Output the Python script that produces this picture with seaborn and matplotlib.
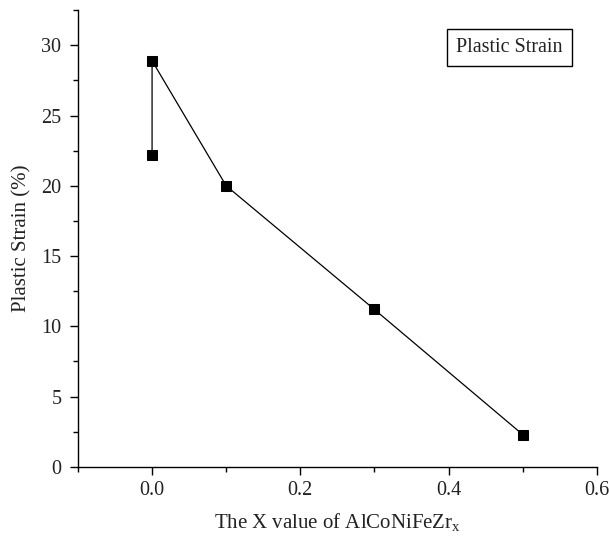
import matplotlib
matplotlib.use("Agg")
import matplotlib.pyplot as plt
import seaborn as sns
import pandas as pd
from matplotlib.ticker import MultipleLocator

x_values = [0.0, 0.0, 0.1, 0.3, 0.5]
strain = [22.2, 28.9, 20.0, 11.2, 2.3]
series_name = "Plastic Strain"

df = pd.DataFrame({"x": x_values, "strain": strain, "order": range(len(x_values))})

sns.set_theme(style="ticks")
plt.rcParams["font.family"] = ["Liberation Serif", "DejaVu Serif"]
plt.rcParams["mathtext.fontset"] = "custom"
plt.rcParams["mathtext.rm"] = "Liberation Serif"
plt.rcParams["mathtext.it"] = "Liberation Serif:italic"

fig = plt.figure(figsize=(6.09, 5.36), dpi=100)
ax = fig.add_axes([0.128, 0.129, 0.852, 0.852])

sns.lineplot(data=df, x="x", y="strain", sort=False, estimator=None, ax=ax,
             color="black", linewidth=0.9, marker="s", markersize=7,
             markeredgecolor="black", markerfacecolor="black")

ax.set_xlim(-0.1, 0.6)
ax.set_ylim(0, 32.5)
ax.xaxis.set_major_locator(MultipleLocator(0.2))
ax.xaxis.set_minor_locator(MultipleLocator(0.1))
ax.yaxis.set_major_locator(MultipleLocator(5))
ax.yaxis.set_minor_locator(MultipleLocator(2.5))
ax.set_xticks([0.0, 0.2, 0.4, 0.6])
ax.set_xticklabels(["0.0", "0.2", "0.4", "0.6"])
ax.tick_params(which="major", direction="out", length=6, width=1, colors="black",
               labelsize=14.5, labelcolor="#222222", pad=5)
ax.tick_params(axis="y", which="major", pad=6)
ax.tick_params(axis="x", which="major", pad=4)
ax.tick_params(which="minor", direction="out", length=3.5, width=1, colors="black")
for s in ["top", "right"]:
    ax.spines[s].set_visible(False)
for s in ["left", "bottom"]:
    ax.spines[s].set_linewidth(1)
    ax.spines[s].set_color("black")

ax.set_xlabel(r"The X value of AlCoNiFeZr$_\mathrm{x}$", fontsize=15, color="#222222", labelpad=8)
ax.set_ylabel("Plastic Strain (%)", fontsize=15, color="#222222", labelpad=7)

ax.text(0.832, 0.918, series_name, transform=ax.transAxes, ha="center", va="center",
        fontsize=14.5, color="#222222",
        bbox=dict(boxstyle="square,pad=0.45", facecolor="white", edgecolor="black", linewidth=1))

fig.savefig("out.png", dpi=100)
